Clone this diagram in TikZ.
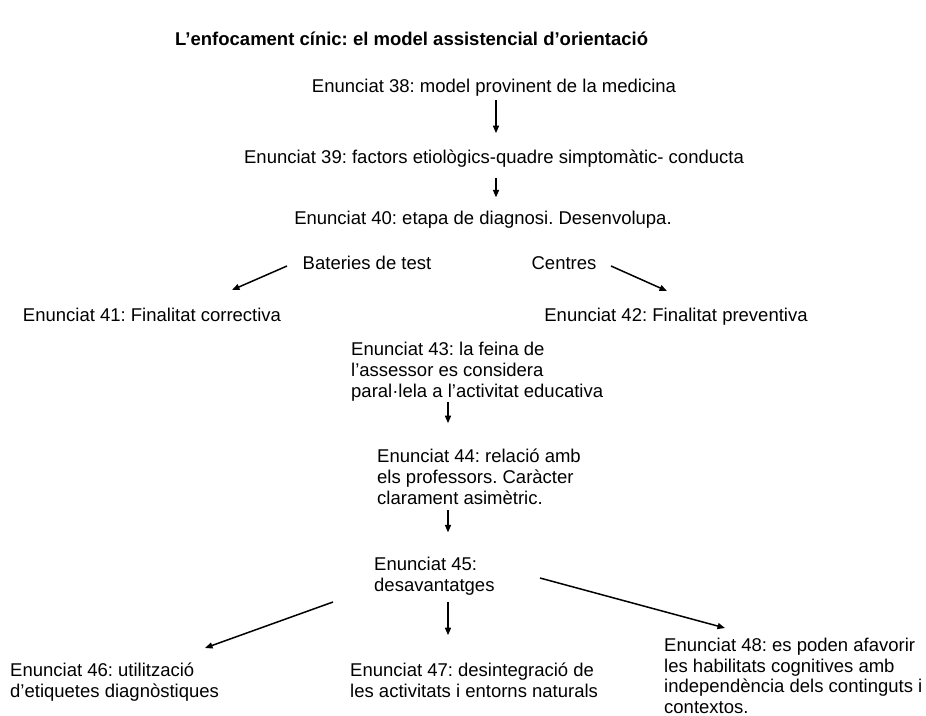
\documentclass[tikz,border=0pt]{standalone}
\usepackage{fontspec}
\setmainfont{Liberation Sans}
\usetikzlibrary{arrows.meta}
\frenchspacing

\tikzset{
  txt/.style = {inner sep=0pt, align=left, anchor=base, font=\fontsize{18.5}{21}\selectfont},
  ttl/.style = {inner sep=0pt, anchor=base west, font=\fontsize{18.5}{21}\selectfont\bfseries},
  arr/.style = {line width=1.5pt, -{Triangle[length=7.5pt,width=6pt]}}
}

\begin{document}
\begin{tikzpicture}[x=1pt,y=-1pt]
        \useasboundingbox (0,0) rectangle (926,715);

        \node [ttl] (title) at (175,45) {L’enfocament cínic: el model assistencial d’orientació};

        \node [txt] (e38) at (494,92) {Enunciat 38: model provinent de la medicina};
        \node [txt] (e39) at (494,163) {Enunciat 39: factors etiològics-quadre simptomàtic- conducta};
        \node [txt] (e40) at (483,224) {Enunciat 40: etapa de diagnosi. Desenvolupa.};

        \node [txt] (bat) at (367,269) {Bateries de test};
        \node [txt] (cen) at (564,269) {Centres};
        \node [txt] (e41) at (152,321) {Enunciat 41: Finalitat correctiva};
        \node [txt] (e42) at (676,321) {Enunciat 42: Finalitat preventiva};

        % multi-line nodes: base is the last line
        \node [txt, anchor = base west] (e43) at (351,397) {Enunciat 43: la feina de\\l’assessor es considera\\paral·lela a l’activitat educativa};
        \node [txt, anchor = base west] (e44) at (377,504) {Enunciat 44: relació amb\\els professors. Caràcter\\clarament asimètric.};
        \node [txt, anchor = base west] (e45) at (374,591) {Enunciat 45:\\desavantatges};

        \node [txt, anchor = base west] (e46) at (10,697) {Enunciat 46: utilització\\d’etiquetes diagnòstiques};
        \node [txt, anchor = base west] (e47) at (350,697) {Enunciat 47: desintegració de\\les activitats i entorns naturals};
        \node [txt, anchor = base west, font=\fontsize{18.5}{20.5}\selectfont] (e48) at (664,713) {Enunciat 48: es poden afavorir\\les habilitats cognitives amb\\independència dels continguts i\\contextos.};

        % arrow ends
        \coordinate (spine) at (448,0);
        \coordinate (t41) at (287,266);
        \coordinate (h41) at (232,290);
        \coordinate (t42) at (611,266);
        \coordinate (h42) at (667,291);
        \coordinate (t46) at (333,602);
        \coordinate (h46) at (205,648);
        \coordinate (t48) at (540,578);
        \coordinate (h48) at (725,628);

        \draw [arr] ([xshift=2pt, yshift=-4pt]e38.south) -- ([xshift=2pt, yshift=16pt]e38.south |- e39.north);
        \draw [arr] ([xshift=2pt, yshift=-11pt]e39.south) -- ([xshift=2pt, yshift=13pt]e39.south |- e40.north);
        \draw [arr] (t41) -- (h41);
        \draw [arr] (t42) -- (h42);
        \draw [arr] ([yshift=-1pt]spine |- e43.south) -- ([yshift=25pt]spine |- e44.north);
        \draw [arr] ([yshift=-6pt]spine |- e44.south) -- ([yshift=24pt]spine |- e45.north);
        \draw [arr] ([yshift=-7pt]spine |- e45.south) -- ([yshift=27pt]spine |- e47.north);
        \draw [arr] (t46) -- (h46);
        \draw [arr] (t48) -- (h48);
\end{tikzpicture}
\end{document}
